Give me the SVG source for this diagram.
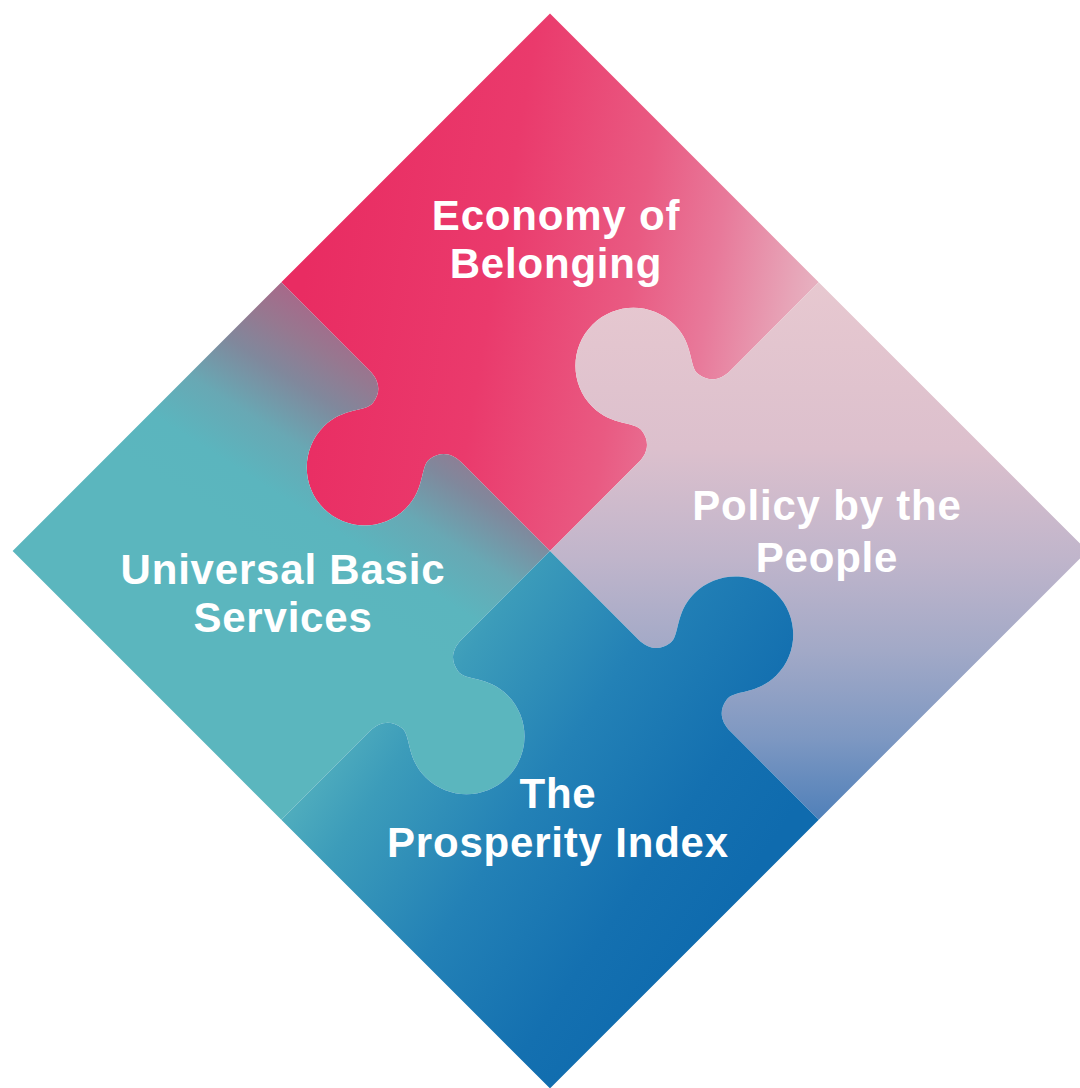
<svg xmlns="http://www.w3.org/2000/svg" xmlns:xlink="http://www.w3.org/1999/xlink" width="1080" height="1088" viewBox="0 0 1080 1088">
  <style>
    .label { font-family: "Liberation Sans", Arial, sans-serif; font-weight: 700; font-size: 42px; letter-spacing: 0.8px; fill: #ffffff; text-anchor: middle; }
  </style>
  <defs>
    <path id="piece" d="M -380,-380 L 0,-380 L 0,-255 C 0,-242 -6,-232 -20,-230 C -32,-228 -44,-248 -72,-248 C -104,-248 -130,-222 -130,-190 C -130,-158 -104,-132 -72,-132 C -44,-132 -32,-152 -20,-150 C -6,-148 0,-138 0,-125 L 0,0 L -125,0 C -138,0 -148,6 -150,20 C -152,32 -132,44 -132,72 C -132,104 -158,130 -190,130 C -222,130 -248,104 -248,72 C -248,44 -228,32 -230,20 C -232,6 -242,0 -255,0 L -380,0 Z"/>
    <linearGradient id="gPink" gradientUnits="userSpaceOnUse" x1="300" y1="300" x2="830" y2="390" gradientTransform="rotate(-45) translate(-550,-551)">
      <stop offset="0" stop-color="#E92C62"/>
      <stop offset="0.35" stop-color="#EA3A6C"/>
      <stop offset="0.6" stop-color="#E95A82"/>
      <stop offset="0.75" stop-color="#E8799A"/>
      <stop offset="0.9" stop-color="#E7A5B8"/>
      <stop offset="1" stop-color="#E6C0CB"/>
    </linearGradient>
    <linearGradient id="gPolicy" gradientUnits="userSpaceOnUse" x1="820" y1="285" x2="820" y2="830" gradientTransform="rotate(-135) translate(-550,-551)">
      <stop offset="0" stop-color="#E7C8D0"/>
      <stop offset="0.3" stop-color="#DCC0CD"/>
      <stop offset="0.5" stop-color="#C0B5CB"/>
      <stop offset="0.67" stop-color="#A2A9C7"/>
      <stop offset="0.83" stop-color="#7E98C2"/>
      <stop offset="1" stop-color="#4A7DB8"/>
    </linearGradient>
    <linearGradient id="gUbs" gradientUnits="userSpaceOnUse" x1="330" y1="280" x2="190" y2="500" gradientTransform="rotate(45) translate(-550,-551)">
      <stop offset="0" stop-color="#AA668A"/>
      <stop offset="0.12" stop-color="#A66A8A"/>
      <stop offset="0.25" stop-color="#967890"/>
      <stop offset="0.4" stop-color="#80889C"/>
      <stop offset="0.6" stop-color="#68A8B4"/>
      <stop offset="0.8" stop-color="#5BB5BE"/>
      <stop offset="1" stop-color="#5BB6BE"/>
    </linearGradient>
    <linearGradient id="gProsperity" gradientUnits="userSpaceOnUse" x1="330" y1="700" x2="700" y2="950" gradientTransform="rotate(-225) translate(-550,-551)">
      <stop offset="0" stop-color="#58B4BF"/>
      <stop offset="0.2" stop-color="#3C9CBA"/>
      <stop offset="0.5" stop-color="#2381B6"/>
      <stop offset="0.8" stop-color="#1470B0"/>
      <stop offset="1" stop-color="#0F6BAE"/>
    </linearGradient>
  </defs>

  <g id="economy-of-belonging">
    <use href="#piece" xlink:href="#piece" transform="translate(550,551) rotate(45)" fill="url(#gPink)"/>
    <text class="label" x="556" y="230">Economy of</text>
    <text class="label" x="556" y="278">Belonging</text>
  </g>
  <g id="policy-by-the-people">
    <use href="#piece" xlink:href="#piece" transform="translate(550,551) rotate(135)" fill="url(#gPolicy)"/>
    <text class="label" x="827" y="520">Policy by the</text>
    <text class="label" x="827" y="572">People</text>
  </g>
  <g id="universal-basic-services">
    <use href="#piece" xlink:href="#piece" transform="translate(550,551) rotate(-45)" fill="url(#gUbs)"/>
    <text class="label" x="283" y="584">Universal Basic</text>
    <text class="label" x="283" y="632">Services</text>
  </g>
  <g id="the-prosperity-index">
    <use href="#piece" xlink:href="#piece" transform="translate(550,551) rotate(225)" fill="url(#gProsperity)"/>
    <text class="label" x="558" y="808">The</text>
    <text class="label" x="558" y="857">Prosperity Index</text>
  </g>
  <g id="connectors"/>
</svg>
